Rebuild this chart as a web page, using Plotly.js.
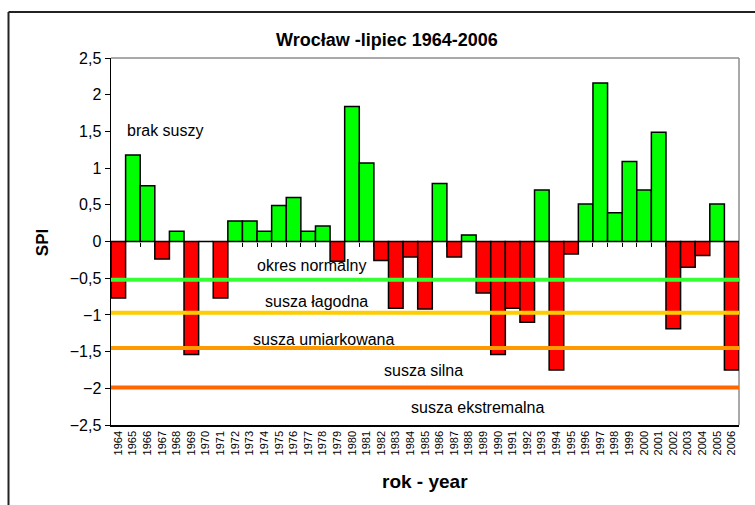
<!DOCTYPE html>
<html>
<head>
<meta charset="utf-8">
<script src="https://cdn.plot.ly/plotly-3.0.1.min.js"></script>
<style>html,body{margin:0;padding:0;background:#fff;}#chart{width:755px;height:505px;}</style>
</head>
<body>
<div id="chart"></div>
<script>
var years = [1964,1965,1966,1967,1968,1969,1970,1971,1972,1973,1974,1975,1976,1977,1978,1979,1980,1981,1982,1983,1984,1985,1986,1987,1988,1989,1990,1991,1992,1993,1994,1995,1996,1997,1998,1999,2000,2001,2002,2003,2004,2005,2006];
var spi = [-0.77,1.18,0.76,-0.24,0.14,-1.54,0,-0.77,0.28,0.28,0.14,0.49,0.60,0.14,0.21,-0.27,1.84,1.07,-0.26,-0.91,-0.21,-0.92,0.79,-0.21,0.09,-0.70,-1.54,-0.91,-1.10,0.70,-1.75,-0.17,0.51,2.16,0.39,1.09,0.70,1.49,-1.19,-0.35,-0.19,0.51,-1.75];
var yTicks = [2.5,2,1.5,1,0.5,0,-0.5,-1,-1.5,-2,-2.5];
var thresholds = [-0.52,-0.97,-1.45,-1.99];
var thresholdColors = ['#33ff33','#ffcc00','#ff9900','#ff6600'];
var classLabels = ['brak suszy','okres normalny','susza łagodna','susza umiarkowana','susza silna','susza ekstremalna'];
var classLabelX = [1967.2,1977.2,1977.6,1978.1,1984.9,1988.6];
var classLabelY = [1.51,-0.33,-0.82,-1.33,-1.76,-2.26];

var barColors = spi.map(function(v){ return v >= 0 ? '#00ff00' : '#ff0000'; });
var bounds = years.slice(0, years.length - 1).map(function(y){ return y + 0.5; });

var font = 'Arial, "Liberation Sans", sans-serif';

var traces = [
  {
    type: 'bar', x: years, y: spi, width: 1,
    marker: {color: barColors, line: {color: '#000', width: 1.5}},
    hoverinfo: 'skip', showlegend: false
  },
  {
    type: 'scatter', x: [], y: [], xaxis: 'x2', yaxis: 'y', hoverinfo: 'skip', showlegend: false
  }
];

var shapes = [
  {type: 'line', xref: 'paper', yref: 'paper', x0: 0, x1: 1, y0: 1, y1: 1, line: {color: '#8c8c8c', width: 1.5}, layer: 'below'},
  {type: 'line', xref: 'paper', yref: 'paper', x0: 1, x1: 1, y0: 0, y1: 1, line: {color: '#8c8c8c', width: 1.5}, layer: 'below'},
  {type: 'line', xref: 'paper', yref: 'paper', x0: -0.1632, x1: 1.05, y0: 1.1253, y1: 1.1253, line: {color: '#222', width: 2}},
  {type: 'line', xref: 'paper', yref: 'paper', x0: -0.1632, x1: -0.1632, y0: -0.25, y1: 1.1253, line: {color: '#222', width: 2}}
];
thresholds.forEach(function(t, i){
  shapes.push({type: 'line', xref: 'paper', yref: 'y', x0: 0, x1: 1, y0: t, y1: t, line: {color: thresholdColors[i], width: 4}, layer: 'above'});
});

var annotations = [
  {text: '<b>Wrocław -lipiec 1964-2006</b>', xref: 'paper', yref: 'paper', x: 0.4395, y: 1.049, showarrow: false, font: {family: font, size: 18, color: '#000'}, xanchor: 'center', yanchor: 'middle'},
  {text: '<b>rok - year</b>', xref: 'paper', yref: 'paper', x: 0.5, y: -0.155, showarrow: false, font: {family: font, size: 19, color: '#000'}, xanchor: 'center', yanchor: 'middle'},
  {text: '<b>SPI</b>', xref: 'paper', yref: 'paper', x: -0.108, y: 0.496, textangle: -90, showarrow: false, font: {family: font, size: 17, color: '#000'}, xanchor: 'center', yanchor: 'middle'}
];
classLabels.forEach(function(t, i){
  annotations.push({text: t, xref: 'x', yref: 'y', x: classLabelX[i], y: classLabelY[i], showarrow: false, font: {family: font, size: 16, color: '#000'}, xanchor: 'center', yanchor: 'middle'});
});

var layout = {
  width: 755, height: 505,
  margin: {l: 111, r: 16, t: 58, b: 80, pad: 0},
  paper_bgcolor: '#fff', plot_bgcolor: '#fff',
  separators: ', ',
  bargap: 0,
  showlegend: false,
  hovermode: false,
  font: {family: font, color: '#000'},
  xaxis: {
    type: 'linear', range: [1963.5, 2006.5], tickmode: 'array', tickvals: years, ticktext: years.map(String),
    tickangle: -90, tickfont: {family: font, size: 11, color: '#000'}, ticks: '', showgrid: false, zeroline: false,
    showline: true, linecolor: '#000', linewidth: 1.5, fixedrange: true
  },
  xaxis2: {
    type: 'linear', range: [1963.5, 2006.5], overlaying: 'x', anchor: 'free', position: 0.4986,
    tickmode: 'array', tickvals: bounds, ticks: 'outside', ticklen: 4, tickcolor: '#000', tickwidth: 1,
    showticklabels: false, showgrid: false, zeroline: false, showline: false, layer: 'below traces', fixedrange: true
  },
  yaxis: {
    range: [-2.5, 2.5], tickmode: 'array', tickvals: yTicks, ticks: 'outside', ticklen: 5, tickcolor: '#000',
    tickfont: {family: font, size: 16, color: '#000'}, showgrid: false, zeroline: true, zerolinecolor: '#000', zerolinewidth: 1,
    showline: true, linecolor: '#000', linewidth: 1.5, fixedrange: true
  },
  shapes: shapes,
  annotations: annotations
};

Plotly.newPlot('chart', traces, layout, {displayModeBar: false, staticPlot: true});
</script>
</body>
</html>
